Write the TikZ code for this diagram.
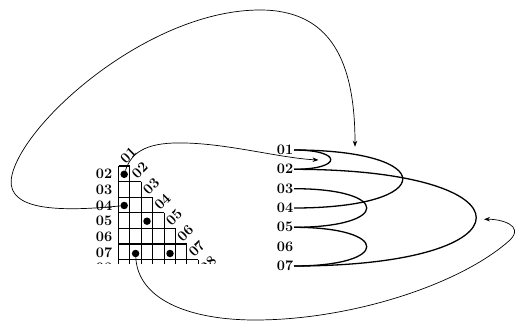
\documentclass[tikz,border=0pt]{standalone}
\usepackage{fontspec}
\usetikzlibrary{arrows.meta}

\begin{document}
\begin{tikzpicture}[
    x=1pt, y=-1pt,
    lbl/.style={font=\fontsize{14.5}{15}\selectfont\bfseries\addfontfeature{FakeStretch=1.12,FakeBold=1.2}, inner sep=0.5pt},
    diag/.style={lbl, rotate=45},
    dot/.style={circle, fill=black, inner sep=0pt, minimum size=7.5pt},
    cell/.style={line width=1.1pt},
    loopline/.style={line width=1.3pt},
    arrow/.style={-{Stealth[length=6pt, width=4.5pt]}, line width=0.7pt}
]
\useasboundingbox (0,0) rectangle (517,321);

% Triangular grid, cut off below row 08
\begin{scope}
\clip (60,130) rectangle (240,263);
\foreach \r in {0,...,7}
    \draw[cell] (118.5,166+15.6*\r) -- (129.9+11.4*\r,166+15.6*\r);
\foreach \c/\t in {0/166, 1/166, 2/181.6, 3/197.2, 4/212.8, 5/228.4, 6/244, 7/259.6, 8/275.2}
    \draw[cell] (118.5+11.4*\c,\t) -- (118.5+11.4*\c,290);

% Row labels
\node[lbl, anchor=east] (row2) at (113,174.3) {02};
\node[lbl, anchor=east] (row3) at (113,189.9) {03};
\node[lbl, anchor=east] (row4) at (113,205.5) {04};
\node[lbl, anchor=east] (row5) at (113,221.1) {05};
\node[lbl, anchor=east] (row6) at (113,236.7) {06};
\node[lbl, anchor=east] (row7) at (113,252.3) {07};
\node[lbl, anchor=east] (row8) at (113,267.9) {08};

% Column labels
\node[diag] (col1) at (128.4,155.0) {01};
\node[diag] (col2) at (139.8,170.6) {02};
\node[diag] (col3) at (151.2,186.2) {03};
\node[diag] (col4) at (162.6,201.8) {04};
\node[diag] (col5) at (174.0,217.4) {05};
\node[diag] (col6) at (185.4,233.0) {06};
\node[diag] (col7) at (196.8,248.6) {07};
\node[diag] (col8) at (208.2,264.2) {08};
\end{scope}

% Marked cells
\node[dot] (d02) at (124.2,174.3) {};
\node[dot] (d04) at (124.2,205.5) {};
\node[dot] (d05) at (147.0,221.2) {};
\node[dot] (d07a) at (135.6,253.5) {};
\node[dot] (d07b) at (170.0,253.5) {};

% Right-hand list
\node[lbl, anchor=east] (r1) at (294,150.0) {01};
\node[lbl, anchor=east] (r2) at (294,169.3) {02};
\node[lbl, anchor=east] (r3) at (294,188.7) {03};
\node[lbl, anchor=east] (r4) at (294,208.0) {04};
\node[lbl, anchor=east] (r5) at (294,227.3) {05};
\node[lbl, anchor=east] (r6) at (294,246.7) {06};
\node[lbl, anchor=east] (r7) at (294,266.0) {07};

% Loops between list entries
\draw[loopline] (r1.east) .. controls +(49,0) and +(49,0) .. (r2.east);
\draw[loopline] (r1.east) .. controls +(145,0) and +(145,0) .. (r4.east);
\draw[loopline] (r2.east) .. controls +(243,0) and +(243,0) .. (r7.east);
\draw[loopline] (r3.east) .. controls +(97,0) and +(97,0) .. (r5.east);
\draw[loopline] (r5.east) .. controls +(97,0) and +(97,0) .. (r7.east);

% Arrow ends
\coordinate (t1) at (355,146.7);
\coordinate (t2) at (318.5,160);
\coordinate (t3) at (484,219.3);

% Arrows
\draw[arrow] (d04) .. controls (40,214) and (5,205) .. (12,175)
    .. controls (25,120) and (150,10) .. (260,10)
    .. controls (330,10) and (355,60) .. (t1);
\draw[arrow] (d02) .. controls (132,150) and (150,142) .. (185,143)
    .. controls (230,144) and (280,158) .. (t2);
\draw[arrow] (d07a) .. controls (138,300) and (190,320) .. (255,320)
    .. controls (350,320) and (460,285) .. (510,240)
    .. controls (525,225) and (500,219) .. (t3);

\end{tikzpicture}
\end{document}
